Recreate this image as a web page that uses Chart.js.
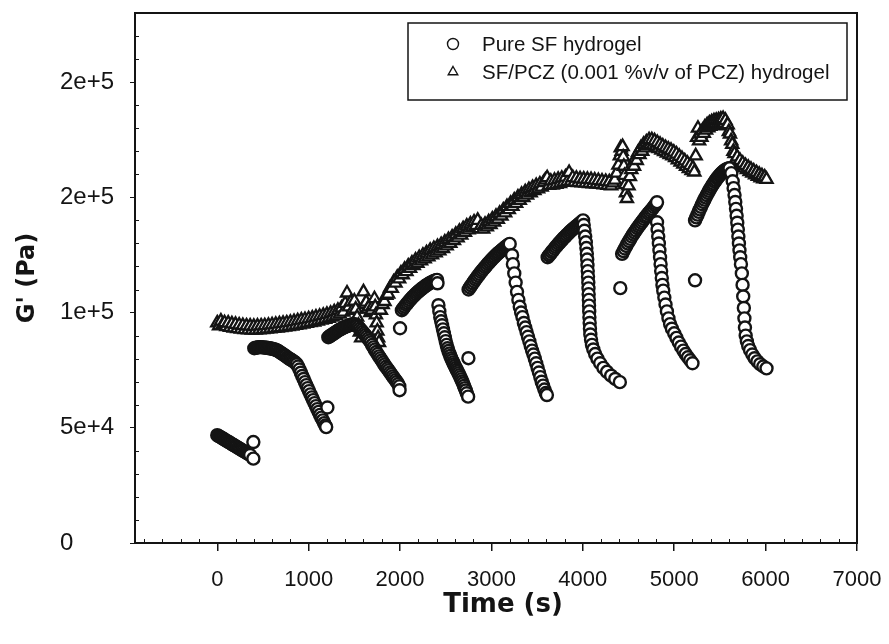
<!DOCTYPE html>
<html>
<head>
<meta charset="utf-8">
<script src="https://cdn.jsdelivr.net/npm/chart.js@4.4.0/dist/chart.umd.min.js"></script>
<style>
  html, body { margin: 0; padding: 0; background: #fff; }
</style>
</head>
<body>
<canvas id="chart" width="889" height="644"></canvas>
<script>
// time (s), G' (kPa), one array per strain cycle
const sf1 = [[0,46.8],[15,46.4],[30,46.1],[45,45.7],[60,45.4],[75,45.0],[90,44.6],[105,44.3],[120,43.9],[135,43.6],[150,43.2],[165,42.8],[180,42.5],[195,42.1],[210,41.8],[225,41.4],[240,41.0],[255,40.7],[270,40.3],[285,40.0],[300,39.6],[315,39.3],[330,38.9],[345,38.5],[360,38.2],[395,43.8],[395,36.6]];
const sf2 = [[405,84.5],[420,84.7],[435,84.8],[450,85.0],[465,85.0],[480,85.0],[495,84.9],[510,84.9],[525,84.8],[540,84.7],[555,84.6],[570,84.5],[585,84.4],[600,84.3],[615,84.1],[630,84.0],[645,83.8],[660,83.5],[675,83.1],[690,82.7],[705,82.3],[720,81.9],[735,81.5],[750,81.1],[765,80.6],[780,80.2],[795,79.8],[810,79.5],[825,79.1],[840,78.7],[855,78.2],[870,77.6],[885,76.6],[900,75.3],[915,73.9],[930,72.5],[945,71.2],[960,69.8],[975,68.5],[990,67.2],[1005,65.9],[1020,64.5],[1035,63.2],[1050,62.0],[1065,60.7],[1080,59.4],[1095,58.1],[1110,56.9],[1125,55.6],[1140,54.4],[1155,53.2],[1170,52.0],[1183,51.0],[1192,50.3],[1205,58.8]];
const sf3 = [[1215,89.3],[1230,89.7],[1245,90.1],[1260,90.5],[1275,90.9],[1290,91.3],[1305,91.7],[1320,92.1],[1335,92.5],[1350,92.8],[1365,93.1],[1380,93.4],[1395,93.7],[1410,94.0],[1425,94.2],[1440,94.4],[1455,94.6],[1470,94.8],[1485,94.9],[1500,95.0],[1515,94.7],[1530,94.2],[1545,93.7],[1560,93.0],[1575,92.3],[1590,91.6],[1605,90.9],[1620,90.2],[1635,89.5],[1650,88.7],[1665,87.9],[1680,87.0],[1695,85.9],[1710,84.9],[1725,83.9],[1740,82.9],[1755,82.0],[1770,81.0],[1785,80.1],[1800,79.2],[1815,78.3],[1830,77.4],[1845,76.5],[1860,75.7],[1875,74.9],[1890,74.0],[1905,73.2],[1920,72.3],[1935,71.5],[1950,70.7],[1965,69.9],[1980,69.0],[1992,68.0],[1995,66.3]];
const sf4 = [[2000,93.2],[2020,101.0],[2035,101.8],[2050,102.6],[2065,103.4],[2080,104.1],[2095,104.8],[2110,105.5],[2125,106.2],[2140,106.8],[2155,107.4],[2170,108.0],[2185,108.6],[2200,109.1],[2215,109.6],[2230,110.1],[2245,110.6],[2260,111.0],[2275,111.5],[2290,111.9],[2305,112.3],[2320,112.6],[2335,113.0],[2350,113.3],[2365,113.6],[2380,113.8],[2395,114.0],[2405,114.2],[2410,112.7],[2420,103.2],[2430,100.5],[2440,98.0],[2450,96.2],[2460,94.5],[2470,92.7],[2480,91.0],[2490,89.3],[2500,87.6],[2510,86.0],[2520,84.5],[2530,83.3],[2540,82.2],[2550,81.2],[2560,80.2],[2570,79.3],[2580,78.4],[2590,77.6],[2600,76.8],[2610,76.0],[2620,75.2],[2630,74.4],[2640,73.6],[2650,72.8],[2660,71.9],[2670,71.0],[2680,70.1],[2690,69.2],[2700,68.2],[2710,67.2],[2720,66.2],[2730,65.0],[2745,63.5],[2748,80.2]];
const sf5 = [[2750,110.0],[2765,110.9],[2780,111.8],[2795,112.7],[2810,113.5],[2825,114.4],[2840,115.2],[2855,116.0],[2870,116.8],[2885,117.6],[2900,118.3],[2915,119.0],[2930,119.7],[2945,120.4],[2960,121.1],[2975,121.8],[2990,122.4],[3005,123.1],[3020,123.7],[3035,124.3],[3050,124.9],[3065,125.5],[3080,126.0],[3095,126.5],[3110,127.0],[3125,127.5],[3140,128.0],[3155,128.5],[3170,129.0],[3185,129.4],[3200,129.8],[3226,124.9],[3235,121.0],[3250,117.0],[3265,113.0],[3280,109.0],[3295,105.5],[3310,102.5],[3325,100.0],[3340,98.0],[3355,95.5],[3370,93.5],[3385,91.5],[3400,89.5],[3415,87.5],[3430,85.5],[3445,83.5],[3460,81.8],[3475,80.0],[3490,78.0],[3505,76.0],[3520,74.0],[3535,72.0],[3550,70.0],[3565,68.3],[3580,66.6],[3595,65.1],[3607,64.2]];
const sf6 = [[3615,124.0],[3630,124.8],[3645,125.5],[3660,126.3],[3675,127.0],[3690,127.8],[3705,128.5],[3720,129.2],[3735,129.9],[3750,130.6],[3765,131.2],[3780,131.9],[3795,132.5],[3810,133.1],[3825,133.7],[3840,134.3],[3855,134.9],[3870,135.5],[3885,136.0],[3900,136.5],[3915,137.0],[3930,137.5],[3945,138.0],[3960,138.5],[3975,139.0],[3990,139.5],[4003,140.0],[4010,138.0],[4018,135.5],[4026,133.0],[4033,130.5],[4039,128.0],[4044,125.5],[4048,123.0],[4051,120.5],[4054,118.0],[4057,115.5],[4060,113.0],[4062,110.5],[4064,108.0],[4066,105.5],[4068,103.0],[4070,100.5],[4072,98.0],[4075,95.5],[4078,93.0],[4082,90.5],[4090,88.2],[4100,86.0],[4115,84.0],[4135,82.0],[4160,80.0],[4190,78.0],[4225,76.0],[4265,74.3],[4310,72.6],[4355,71.2],[4405,69.8]];
const sf7 = [[4410,110.6],[4430,125.5],[4445,126.7],[4460,127.8],[4475,128.9],[4490,130.0],[4505,131.0],[4520,132.0],[4535,133.0],[4550,133.9],[4565,134.8],[4580,135.7],[4595,136.6],[4610,137.4],[4625,138.2],[4640,139.0],[4655,139.8],[4670,140.6],[4685,141.4],[4700,142.1],[4715,142.9],[4730,143.6],[4745,144.3],[4760,145.0],[4775,145.8],[4790,146.5],[4802,147.2],[4812,147.9],[4812,139.2],[4818,136.0],[4825,133.0],[4832,130.0],[4838,127.0],[4845,124.0],[4851,121.0],[4857,118.0],[4864,115.0],[4871,112.0],[4880,109.5],[4892,106.5],[4905,103.5],[4920,100.5],[4937,97.5],[4955,95.0],[4975,93.0],[5000,91.0],[5025,89.0],[5050,87.0],[5075,85.2],[5100,83.5],[5125,82.0],[5150,80.6],[5175,79.3],[5200,78.0]];
const sf8 = [[5228,114.0],[5228,140.0],[5242,141.3],[5255,142.5],[5268,143.7],[5280,144.8],[5293,145.9],[5305,147.0],[5318,148.0],[5330,149.0],[5343,150.0],[5355,151.0],[5368,151.9],[5380,152.8],[5393,153.7],[5405,154.5],[5418,155.3],[5430,156.0],[5443,156.8],[5455,157.5],[5468,158.2],[5480,158.8],[5493,159.4],[5505,160.0],[5518,160.5],[5530,161.0],[5543,161.4],[5555,161.8],[5568,162.1],[5580,162.3],[5593,162.5],[5605,162.6],[5625,160.5],[5640,157.0],[5650,154.0],[5660,151.0],[5668,148.0],[5676,145.0],[5683,142.0],[5690,139.0],[5696,136.0],[5702,133.0],[5708,130.0],[5714,127.0],[5722,124.0],[5730,121.0],[5740,117.0],[5748,112.0],[5755,107.0],[5762,102.0],[5768,97.5],[5774,93.5],[5782,90.0],[5795,87.5],[5810,85.5],[5830,83.7],[5855,81.8],[5880,80.2],[5910,78.8],[5940,77.6],[5975,76.6],[6010,75.8]];

const pcz1 = [[0,95.5],[20,94.2],[40,96.3],[60,94.8],[80,95.6],[100,93.9],[120,95.4],[140,93.6],[160,95.1],[180,93.3],[200,94.9],[220,93.0],[240,94.6],[260,92.8],[280,94.4],[300,92.6],[320,94.2],[340,92.5],[360,94.1],[380,92.4],[400,94.0],[420,92.4],[440,94.1],[460,92.5],[480,94.2],[500,92.6],[520,94.3],[540,92.8],[560,94.5],[580,92.9],[600,94.7],[620,93.1],[640,94.9],[660,93.3],[680,95.1],[700,93.5],[720,95.3],[740,93.7],[760,95.5],[780,93.9],[800,95.8],[820,94.1],[840,96.1],[860,94.4],[880,96.4],[900,94.7],[920,96.7],[940,95.0],[960,97.0],[980,95.3],[1000,97.3],[1020,95.6],[1040,97.6],[1060,95.9],[1080,98.0],[1100,96.3],[1120,98.4],[1140,96.7],[1160,98.8],[1180,97.1],[1200,99.2],[1220,97.5],[1240,99.7],[1260,98.0],[1280,100.3],[1300,98.6],[1320,101.0],[1340,99.3],[1360,102.0],[1380,100.2],[1400,104.0],[1420,108.5],[1440,102.5],[1460,104.5],[1480,101.0],[1500,105.0],[1515,101.5],[1530,98.0],[1545,94.5],[1560,91.5],[1575,89.0],[1600,109.0],[1615,103.5],[1630,104.5],[1645,101.5],[1660,102.5],[1675,100.0],[1690,101.0],[1705,103.0],[1720,106.0],[1728,102.5],[1736,99.0],[1744,95.5],[1752,92.0],[1760,89.0],[1770,87.0]];
const pcz2 = [[1790,101.0],[1810,103.5],[1830,104.8],[1850,107.5],[1870,108.0],[1890,110.6],[1910,110.5],[1930,113.2],[1950,112.8],[1970,115.3],[1990,114.6],[2010,117.1],[2030,116.4],[2050,118.8],[2070,117.8],[2090,120.2],[2110,119.2],[2130,121.5],[2150,120.4],[2170,122.8],[2190,121.4],[2210,123.9],[2230,122.4],[2250,124.9],[2270,123.3],[2290,125.9],[2310,124.2],[2330,127.0],[2350,125.0],[2370,127.8],[2390,125.9],[2410,128.6],[2430,126.8],[2450,129.5],[2470,127.8],[2490,130.6],[2510,128.9],[2530,131.7],[2550,130.0],[2570,132.8],[2590,131.2],[2610,134.0],[2630,132.4],[2650,135.3],[2670,133.6],[2690,136.4],[2710,134.8],[2730,137.5],[2750,135.9],[2770,138.4],[2790,136.9],[2810,139.3],[2830,137.8],[2850,140.0]];
const pcz3 = [[2870,136.4],[2890,137.8],[2910,136.2],[2930,138.3],[2950,137.2],[2970,139.4],[2990,138.2],[3010,140.6],[3030,139.3],[3050,141.8],[3070,140.5],[3090,143.1],[3110,141.9],[3130,144.5],[3150,143.3],[3170,146.0],[3190,144.7],[3210,147.4],[3230,146.1],[3250,148.8],[3270,147.4],[3290,150.1],[3310,148.7],[3330,151.3],[3350,149.9],[3370,152.4],[3390,151.0],[3410,153.4],[3430,152.0],[3450,154.3],[3470,152.9],[3490,155.1],[3510,153.7],[3530,155.8],[3550,154.4],[3570,156.4],[3590,157.5],[3610,158.5],[3630,155.2],[3650,157.0],[3670,155.3],[3690,157.4],[3710,155.6],[3730,157.8],[3750,156.0],[3770,158.3],[3790,156.5],[3810,158.8],[3830,156.8],[3850,160.8],[3870,157.0],[3890,158.6],[3910,156.6],[3930,158.3],[3950,156.4],[3970,158.0],[3990,156.3],[4010,157.9],[4030,156.2],[4050,157.8],[4070,156.0],[4090,157.7],[4110,155.9],[4130,157.5],[4150,155.8],[4170,157.3],[4190,155.6],[4210,157.1],[4230,155.4],[4250,156.9],[4270,155.2],[4290,156.7],[4310,155.0],[4330,156.3]];
const pcz4 = [[4350,157.5],[4370,160.5],[4390,164.0],[4405,168.0],[4415,171.5],[4425,170.0],[4435,172.0],[4442,167.5],[4449,163.5],[4456,159.5],[4464,155.5],[4472,152.0],[4482,149.5],[4500,155.0],[4515,159.0],[4530,162.0],[4545,164.5],[4560,163.5],[4575,167.0],[4590,166.0],[4605,169.5],[4620,168.5],[4635,171.5],[4650,170.0],[4665,173.0],[4680,171.5],[4695,174.0],[4710,172.5],[4725,175.0],[4740,173.0],[4755,175.0],[4770,172.8],[4785,174.5],[4800,172.0],[4815,173.8],[4830,171.2],[4845,173.0],[4860,170.5],[4875,172.3],[4890,169.8],[4905,171.6],[4920,169.2],[4935,171.0],[4950,168.6],[4965,170.4],[4980,168.0],[4995,169.6],[5010,167.2],[5025,168.8],[5040,166.3],[5055,167.8],[5070,165.3],[5085,166.8],[5100,164.4],[5115,165.8],[5130,163.4],[5145,164.8],[5160,162.5],[5175,163.8],[5190,161.6],[5205,162.8],[5220,161.0]];
const pcz5 = [[5235,168.0],[5250,176.0],[5260,180.0],[5272,174.5],[5285,177.5],[5298,176.0],[5310,179.0],[5323,177.8],[5335,180.5],[5348,179.2],[5360,181.5],[5373,180.2],[5385,182.2],[5398,180.8],[5410,182.8],[5423,181.2],[5435,183.2],[5448,181.6],[5460,183.4],[5473,181.8],[5485,183.6],[5498,182.0],[5510,184.0],[5523,182.3],[5535,184.2],[5548,182.2],[5560,183.4],[5573,181.0],[5585,181.5],[5598,178.5],[5610,177.5],[5623,174.5],[5635,173.0],[5648,170.0],[5660,169.0],[5675,166.5],[5690,167.5],[5705,165.0],[5720,166.0],[5735,163.8],[5750,164.8],[5765,162.8],[5780,163.8],[5795,162.0],[5810,163.0],[5825,161.2],[5840,162.2],[5855,160.5],[5870,161.4],[5885,159.8],[5900,160.7],[5915,159.1],[5930,160.0],[5945,158.5],[5960,159.3],[5975,158.0],[5990,158.8],[6010,157.8]];

const xTickValues = [0, 1000, 2000, 3000, 4000, 5000, 6000, 7000];
const yTickValues = [0, 50000, 100000, 150000, 200000];
const seriesLabels = ['Pure SF hydrogel', 'SF/PCZ (0.001 %v/v of PCZ) hydrogel'];
const xTitle = 'Time (s)';
const yTitle = "G' (Pa)";

const toXY = rows => rows.map(r => ({ x: r[0], y: r[1] * 1000 }));
const pureData = [sf1, sf2, sf3, sf4, sf5, sf6, sf7, sf8].flatMap(toXY);
const pczData = [pcz1, pcz2, pcz3, pcz4, pcz5].flatMap(toXY);

const INK = '#141414';
const SANS = "'Liberation Sans', Arial, sans-serif";
const BOLD = "'DejaVu Sans', Verdana, sans-serif";

// box around plot, minor ticks, legend and axis titles
const decor = {
	id: 'decor',
	beforeDatasetsDraw(chart) {
		const { ctx, chartArea: a, scales: { x, y } } = chart;
		ctx.save();
		ctx.strokeStyle = INK;
		ctx.lineWidth = 2;
		ctx.strokeRect(a.left, a.top, a.right - a.left, a.bottom - a.top);
		ctx.lineWidth = 1;
		ctx.beginPath();
		for (let v = -800; v < 7000; v += 200) {
			if (v % 1000 === 0) continue;
			const px = Math.round(x.getPixelForValue(v)) + 0.5;
			ctx.moveTo(px, a.bottom);
			ctx.lineTo(px, a.bottom - 4);
		}
		for (let v = 10000; v < 230000; v += 10000) {
			if (v % 50000 === 0) continue;
			const py = Math.round(y.getPixelForValue(v)) + 0.5;
			ctx.moveTo(a.left, py);
			ctx.lineTo(a.left + 4, py);
		}
		ctx.stroke();
		ctx.restore();
	},
	afterDraw(chart) {
		const { ctx, chartArea: a } = chart;
		ctx.save();
		// legend
		const bx = a.left + 273, by = a.top + 10, bw = a.right - 10 - bx, bh = 77;
		ctx.fillStyle = '#fff';
		ctx.fillRect(bx, by, bw, bh);
		ctx.strokeStyle = INK;
		ctx.lineWidth = 1.5;
		ctx.strokeRect(bx, by, bw, bh);
		chart.data.datasets.forEach((ds, i) => {
			const cy = by + 21 + i * 28;
			ctx.fillStyle = '#fff';
			ctx.strokeStyle = INK;
			ctx.lineWidth = 1.4;
			Chart.helpers.drawPoint(ctx, { pointStyle: ds.pointStyle, radius: 5.5, rotation: 0, borderWidth: 1.4 }, bx + 45, cy);
			ctx.fillStyle = INK;
			ctx.font = '20.5px ' + SANS;
			ctx.textAlign = 'left';
			ctx.textBaseline = 'middle';
			ctx.fillText(ds.label, bx + 74, cy + 1);
		});
		// axis titles
		ctx.fillStyle = INK;
		ctx.textAlign = 'center';
		ctx.textBaseline = 'middle';
		ctx.font = 'bold 26px ' + BOLD;
		ctx.fillText(xTitle, (a.left + a.right) / 2 + 7, 605);
		ctx.translate(28, (a.top + a.bottom) / 2);
		ctx.rotate(-Math.PI / 2);
		ctx.font = 'bold 24px ' + BOLD;
		ctx.fillText(yTitle, 0, 0);
		ctx.restore();
	}
};

new Chart(document.getElementById('chart'), {
	type: 'scatter',
	data: {
		datasets: [
			{
				label: seriesLabels[0],
				data: pureData,
				pointStyle: 'circle',
				radius: 6,
				borderWidth: 2.4,
				borderColor: INK,
				backgroundColor: '#fff'
			},
			{
				label: seriesLabels[1],
				data: pczData,
				pointStyle: 'triangle',
				radius: 7,
				borderWidth: 2.3,
				borderColor: INK,
				backgroundColor: '#fff'
			}
		]
	},
	options: {
		responsive: false,
		animation: false,
		layout: { padding: { left: 60, right: 32, top: 13, bottom: 0 } },
		plugins: { legend: { display: false }, tooltip: { enabled: false } },
		scales: {
			x: {
				type: 'linear',
				min: -900,
				max: 7000,
				afterBuildTicks: s => { s.ticks = xTickValues.map(v => ({ value: v })); },
				afterFit: s => { s.height = 101; s.paddingLeft = 0; s.paddingRight = 0; },
				ticks: {
					font: { family: SANS, size: 22 },
					color: INK,
					padding: 16,
					autoSkip: false,
					maxRotation: 0,
					callback: v => String(v)
				},
				grid: { drawOnChartArea: false, tickLength: 8, color: INK, lineWidth: 1.5 },
				border: { display: true, color: INK, width: 2 }
			},
			y: {
				type: 'linear',
				min: 0,
				max: 230000,
				afterBuildTicks: s => { s.ticks = yTickValues.map(v => ({ value: v })); },
				afterFit: s => { s.width = 75; s.paddingTop = 0; s.paddingBottom = 0; },
				ticks: {
					font: { family: SANS, size: 24 },
					color: INK,
					crossAlign: 'far',
					callback: v => v === 0 ? '0' : Number(v).toExponential(0)
				},
				grid: { drawOnChartArea: false, tickLength: 5, color: INK, lineWidth: 1 },
				border: { display: true, color: INK, width: 2 }
			}
		}
	},
	plugins: [decor]
});
</script>
</body>
</html>
